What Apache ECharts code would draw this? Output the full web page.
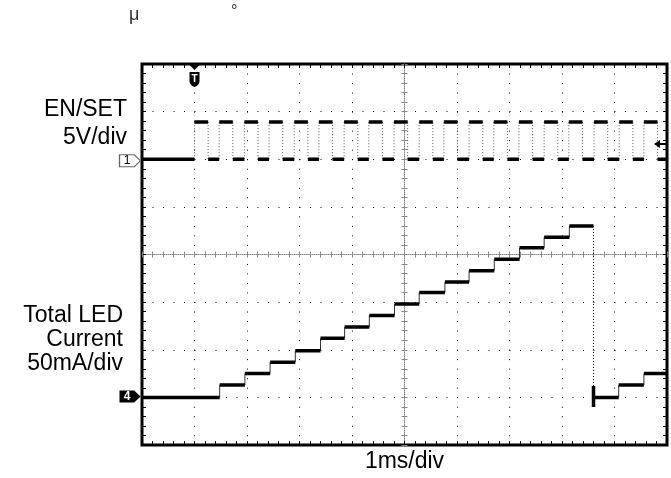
<!DOCTYPE html>
<html>
<head>
<meta charset="utf-8">
<script src="https://cdn.jsdelivr.net/npm/echarts@6/dist/echarts.min.js"></script>
<style>
html, body { margin: 0; padding: 0; background: #fff; }
#main { width: 671px; height: 478px; }
</style>
</head>
<body>
<div id="main"></div>
<script>
// time axis in ms, trigger at 0, 1ms/div
var timeTicks = [-1, 0, 1, 2, 3, 4, 5, 6, 7, 8, 9];
// EN/SET pulses (V), 5V/div
var enRise = [0.00, 0.47, 0.95, 1.42, 1.90, 2.37, 2.85, 3.32, 3.80, 4.28, 4.75, 5.23, 5.70, 6.18, 6.66, 7.13, 7.61, 8.09, 8.56];
var enFall = [0.26, 0.73, 1.21, 1.68, 2.16, 2.63, 3.11, 3.58, 4.06, 4.54, 5.01, 5.49, 5.96, 6.44, 6.92, 7.39, 7.87, 8.35, 8.82];
var enLevels = [0, 3.9];
// total LED current (mA), 50mA/div
var ledStepTime = [0.48, 0.96, 1.44, 1.92, 2.40, 2.86, 3.33, 3.81, 4.28, 4.77, 5.23, 5.71, 6.19, 6.66, 7.14, 7.60, 8.08, 8.56];
var ledLevel = [13, 25, 37, 49, 62, 74, 86, 98, 110, 121, 133, 145, 157, 168, 180, 0, 13, 25];
var ledDropSpike = [12, -10];

var tStart = timeTicks[0], tEnd = timeTicks[timeTicks.length - 1];
var enLow = enLevels[0], enHigh = enLevels[1];

// list of [[x1,y1],[x2,y2]] -> line data with gaps
function segs(list) {
  var out = [];
  list.forEach(function (s) {
    out.push(s[0], s[1], [s[1][0], null]);
  });
  return out;
}

var enLevelSegs = [], enEdgeSegs = [];
var prev = tStart;
enRise.forEach(function (r, i) {
  enLevelSegs.push([[prev, enLow], [r, enLow]]);
  enLevelSegs.push([[r, enHigh], [enFall[i], enHigh]]);
  enEdgeSegs.push([[r, enLow], [r, enHigh]]);
  enEdgeSegs.push([[enFall[i], enHigh], [enFall[i], enLow]]);
  prev = enFall[i];
});
enLevelSegs.push([[prev, enLow], [tEnd, enLow]]);

var ledLevelSegs = [], ledEdgeSegs = [], ledDropSegs = [];
var t0 = tStart, lv = 0;
ledStepTime.forEach(function (t, i) {
  ledLevelSegs.push([[t0, lv], [t, lv]]);
  if (ledLevel[i] < lv) {
    ledDropSegs.push([[t, lv], [t, ledDropSpike[1]]]);
    ledLevelSegs.push([[t, ledDropSpike[0]], [t, ledDropSpike[1]]]);
  } else {
    ledEdgeSegs.push([[t, lv], [t, ledLevel[i]]]);
  }
  t0 = t;
  lv = ledLevel[i];
});
ledLevelSegs.push([[t0, lv], [tEnd, lv]]);

var font = 'Liberation Sans, Arial, sans-serif';

function timeAxis(extra) {
  return Object.assign({
    type: 'value', min: tStart, max: tEnd, interval: 1,
    axisLine: { show: false, onZero: false },
    axisTick: { show: false },
    minorTick: { show: false },
    axisLabel: { show: false },
    splitLine: { show: false }
  }, extra);
}
function voltAxis(extra) {
  return Object.assign({
    type: 'value', min: -30, max: 10, interval: 5,
    axisLine: { show: false, onZero: false },
    axisTick: { show: false },
    minorTick: { show: false },
    axisLabel: { show: false },
    splitLine: { show: false }
  }, extra);
}
var edgeTick = { show: true, inside: true, length: 4, lineStyle: { color: '#000', width: 1 } };
var edgeMinor = { show: true, splitNumber: 5, length: 4, lineStyle: { color: '#000', width: 1 } };
var crossLine = { show: true, onZero: false, lineStyle: { color: '#888', width: 1, type: [1, 1] } };
var crossMinor = { show: true, splitNumber: 5, length: 3, lineStyle: { color: '#888', width: 1 } };

function label(text, x, y, lh) {
  return {
    type: 'text', x: x, y: y,
    style: { text: text, font: '23px ' + font, fill: '#000', align: 'right', verticalAlign: 'top', lineHeight: lh }
  };
}

var chart = echarts.init(document.getElementById('main'));
var option = {
  animation: false,
  backgroundColor: '#fff',
  grid: {
    left: 142, top: 64, width: 525, height: 381,
    show: true, borderColor: '#000', borderWidth: 3,
    containLabel: false, outerBoundsMode: 'none'
  },
  graphic: [
    label('EN/SET\n5V/div', 127, 96, 28),
    label('Total LED\nCurrent\n50mA/div', 123, 304, 24),
    { type: 'text', x: 129, y: 6, style: { text: 'μ', font: '18px ' + font, fill: '#333' } },
    { type: 'text', x: 231, y: 4, style: { text: '°', font: '16px ' + font, fill: '#333' } }
  ],
  xAxis: [
    timeAxis({
      position: 'bottom',
      name: '1ms/div', nameLocation: 'middle', nameGap: 5,
      nameTextStyle: { fontFamily: font, fontSize: 23, color: '#000', verticalAlign: 'top' },
      axisTick: edgeTick, minorTick: edgeMinor,
      splitLine: { show: true, lineStyle: { color: '#000', width: 1, type: [1, 8.52] } }
    }),
    timeAxis({ position: 'top', axisTick: edgeTick, minorTick: edgeMinor }),
    timeAxis({ position: 'bottom', offset: -190.5, axisLine: crossLine,
      axisTick: { show: true, inside: true, length: 3, lineStyle: { color: '#888' } }, minorTick: crossMinor }),
    timeAxis({ position: 'bottom', offset: -190.5,
      axisTick: { show: true, inside: false, length: 3, lineStyle: { color: '#888' } }, minorTick: crossMinor })
  ],
  yAxis: [
    voltAxis({
      position: 'left',
      axisTick: edgeTick, minorTick: edgeMinor,
      splitLine: { show: true, lineStyle: { color: '#000', width: 1, type: [1, 9.5] } }
    }),
    {
      type: 'value', min: -50, max: 350, interval: 50, position: 'left',
      axisLine: { show: false, onZero: false }, axisTick: { show: false },
      axisLabel: { show: false }, splitLine: { show: false }
    },
    voltAxis({ position: 'left', offset: -262.5, axisLine: crossLine,
      axisTick: { show: true, inside: true, length: 3, lineStyle: { color: '#888' } }, minorTick: crossMinor }),
    voltAxis({ position: 'left', offset: -262.5,
      axisTick: { show: true, inside: false, length: 3, lineStyle: { color: '#888' } }, minorTick: crossMinor }),
    voltAxis({ position: 'right', axisTick: edgeTick, minorTick: edgeMinor })
  ],
  series: [
    {
      name: 'EN/SET edges', type: 'line', xAxisIndex: 0, yAxisIndex: 0,
      data: segs(enEdgeSegs), showSymbol: false, symbol: 'none', silent: true,
      lineStyle: { color: '#555', width: 1, type: [1, 2] }
    },
    {
      name: 'EN/SET', type: 'line', xAxisIndex: 0, yAxisIndex: 0,
      data: segs(enLevelSegs), showSymbol: false, symbol: 'none', silent: true, clip: false,
      lineStyle: { color: '#000', width: 3.5 },
      markPoint: {
        silent: true, animation: false,
        data: [
          {
            coord: [0, 10], symbol: 'path://M0,0L12,0L6,6Z M1,8L11,8L11,17Q11,21 6,23Q1,21 1,17Z',
            symbolSize: [12, 23], symbolOffset: [0, 11.5],
            itemStyle: { color: '#000' },
            label: { show: true, position: 'inside', formatter: 'T', color: '#fff', fontSize: 10, fontWeight: 'bold', fontFamily: font, offset: [0, 4] }
          },
          {
            coord: [tStart, enLow], symbol: 'path://M0,0L14,0L20,5.5L14,11L0,11Z',
            symbolSize: [21, 12], symbolOffset: [-12, 1.5],
            itemStyle: { color: '#fff', borderColor: '#666', borderWidth: 1 },
            label: { show: true, position: 'inside', formatter: '1', color: '#000', fontSize: 12, fontFamily: font, offset: [-3, 0] }
          },
          {
            coord: [tEnd, 1.6], symbol: 'path://M0,4L6,0L6,3L12,3L12,5L6,5L6,8Z',
            symbolSize: [12, 8], symbolOffset: [-7, 0],
            itemStyle: { color: '#000' }, label: { show: false }
          }
        ]
      }
    },
    {
      name: 'LED edges', type: 'line', xAxisIndex: 0, yAxisIndex: 1,
      data: segs(ledEdgeSegs), showSymbol: false, symbol: 'none', silent: true,
      lineStyle: { color: '#333', width: 1 }
    },
    {
      name: 'LED drop', type: 'line', xAxisIndex: 0, yAxisIndex: 1,
      data: segs(ledDropSegs), showSymbol: false, symbol: 'none', silent: true,
      lineStyle: { color: '#000', width: 1, type: [1, 2] }
    },
    {
      name: 'Total LED Current', type: 'line', xAxisIndex: 0, yAxisIndex: 1,
      data: segs(ledLevelSegs), showSymbol: false, symbol: 'none', silent: true, clip: false,
      lineStyle: { color: '#000', width: 3.5 },
      markPoint: {
        silent: true, animation: false,
        data: [
          {
            coord: [tStart, 0], symbol: 'path://M0,0L14,0L20,5.5L14,11L0,11Z',
            symbolSize: [21, 12], symbolOffset: [-12, -1],
            itemStyle: { color: '#000' },
            label: { show: true, position: 'inside', formatter: '4', color: '#fff', fontSize: 12, fontWeight: 'bold', fontFamily: font, offset: [-3, 0] }
          }
        ]
      }
    }
  ]
};
chart.setOption(option);
</script>
</body>
</html>
